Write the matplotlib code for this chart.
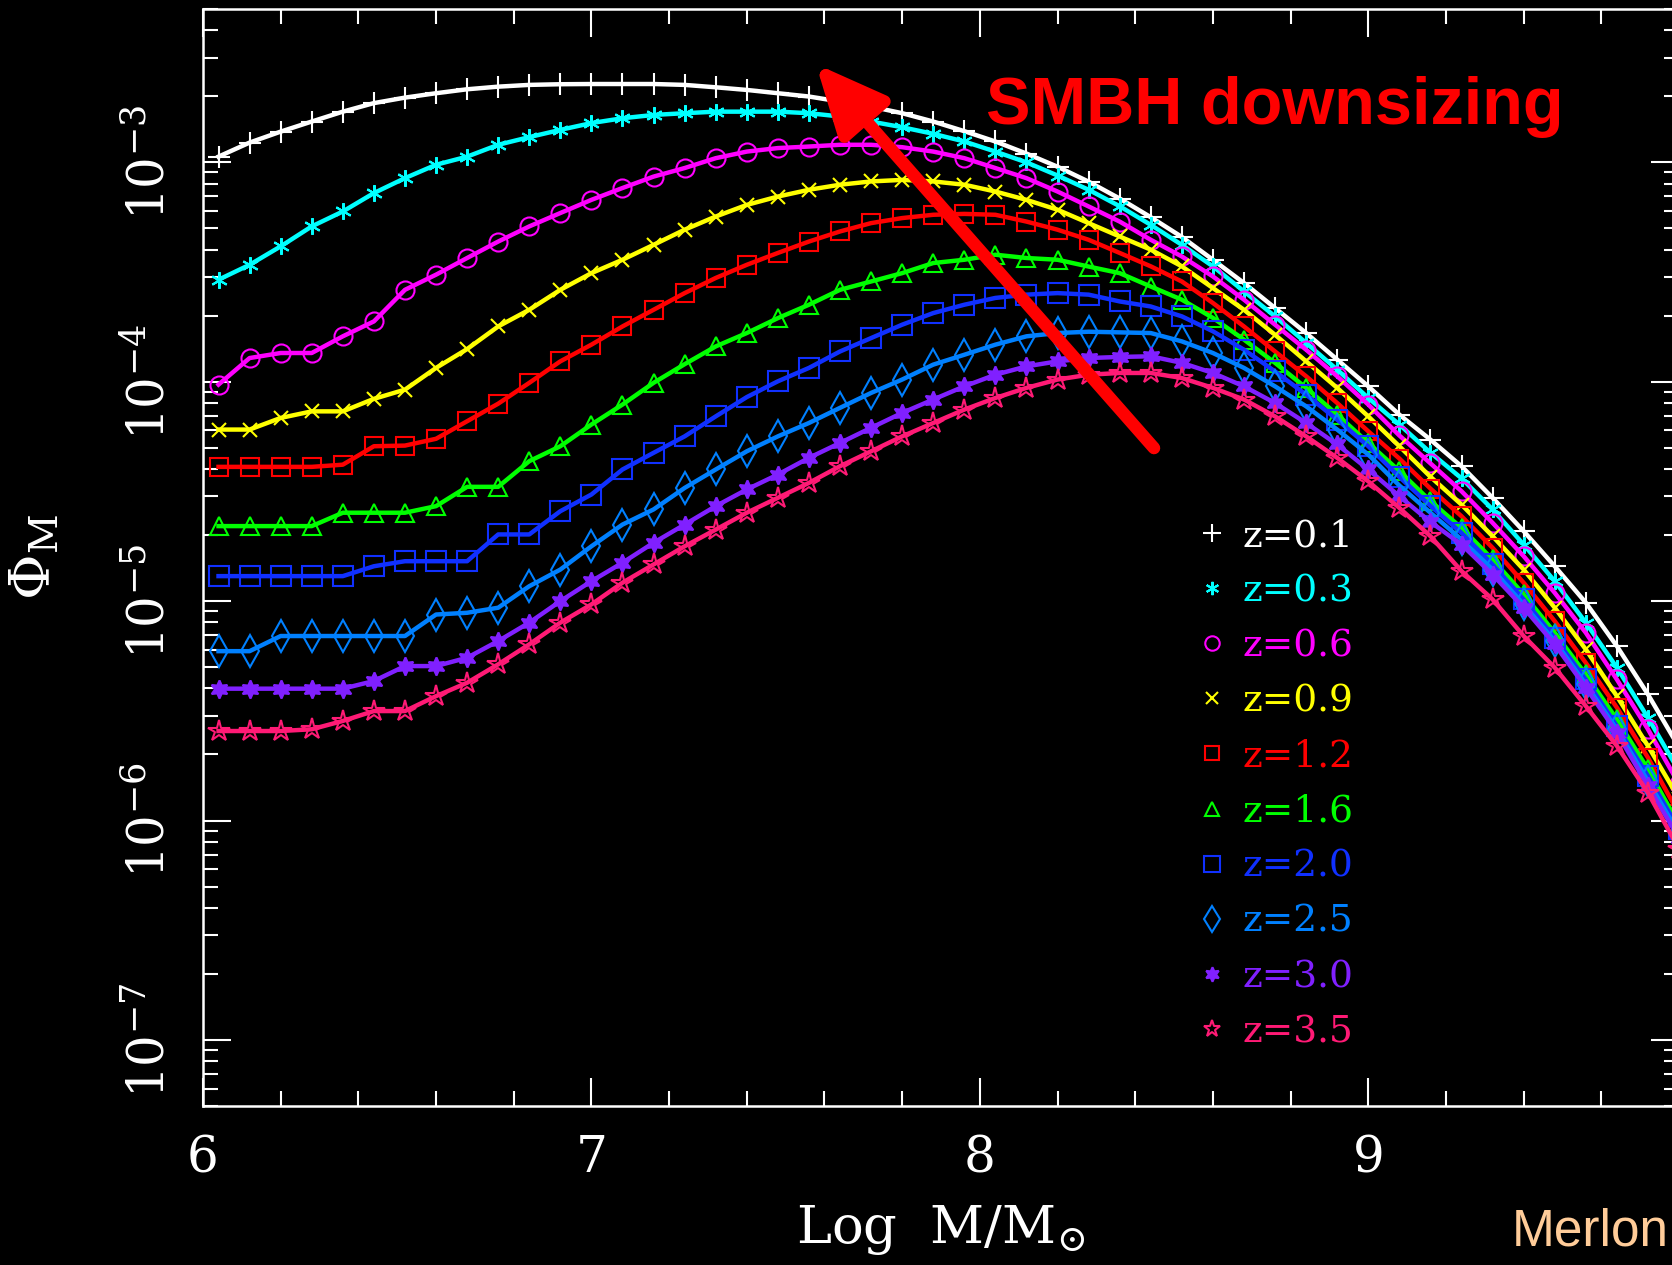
import numpy as np
import matplotlib
matplotlib.use("Agg")
import matplotlib.pyplot as plt
from matplotlib.ticker import MultipleLocator, LogLocator, NullFormatter

plt.rcParams["font.family"] = "DejaVu Serif"
plt.rcParams["mathtext.fontset"] = "dejavuserif"

# mass bins (log M/Msun), one marker every 0.08 dex
log_m = np.arange(6.04, 9.85, 0.08)

# log10 of the mass function, one list per redshift
phi_z01 = [-2.974, -2.910, -2.860, -2.814, -2.769, -2.730, -2.705, -2.685, -2.667, -2.655,
           -2.647, -2.644, -2.643, -2.643, -2.643, -2.647, -2.658, -2.670, -2.685, -2.700,
           -2.723, -2.746, -2.776, -2.814, -2.858, -2.905, -2.960, -3.020, -3.088, -3.165,
           -3.250, -3.340, -3.444, -3.550, -3.664, -3.778, -3.899, -4.021, -4.150, -4.264,
           -4.385, -4.529, -4.681, -4.841, -5.007, -5.205, -5.425, -5.666]
phi_z03 = [-3.535, -3.467, -3.383, -3.292, -3.224, -3.140, -3.072, -3.011, -2.974, -2.920,
           -2.885, -2.852, -2.821, -2.799, -2.784, -2.776, -2.769, -2.769, -2.769, -2.776,
           -2.791, -2.814, -2.840, -2.870, -2.905, -2.951, -3.000, -3.060, -3.125, -3.200,
           -3.285, -3.376, -3.474, -3.588, -3.702, -3.823, -3.945, -4.074, -4.195, -4.323,
           -4.440, -4.582, -4.742, -4.909, -5.098, -5.303, -5.531, -5.775]
phi_z06 = [-4.013, -3.892, -3.869, -3.869, -3.793, -3.725, -3.581, -3.512, -3.436, -3.361,
           -3.292, -3.231, -3.171, -3.117, -3.065, -3.026, -2.981, -2.951, -2.935, -2.928,
           -2.920, -2.920, -2.931, -2.951, -2.981, -3.026, -3.072, -3.133, -3.201, -3.270,
           -3.353, -3.429, -3.520, -3.626, -3.740, -3.854, -3.975, -4.104, -4.245, -4.372,
           -4.499, -4.643, -4.795, -4.962, -5.144, -5.357, -5.584, -5.834]
phi_z09 = [-4.218, -4.218, -4.165, -4.135, -4.135, -4.078, -4.036, -3.937, -3.851, -3.748,
           -3.672, -3.581, -3.505, -3.444, -3.376, -3.307, -3.247, -3.194, -3.156, -3.125,
           -3.102, -3.087, -3.080, -3.087, -3.102, -3.133, -3.171, -3.216, -3.277, -3.338,
           -3.398, -3.474, -3.573, -3.672, -3.786, -3.907, -4.028, -4.158, -4.294, -4.433,
           -4.560, -4.704, -4.856, -5.030, -5.220, -5.433, -5.660, -5.900]
phi_z12 = [-4.388, -4.388, -4.388, -4.388, -4.378, -4.294, -4.291, -4.260, -4.180, -4.100,
           -4.005, -3.907, -3.831, -3.748, -3.672, -3.596, -3.527, -3.467, -3.413, -3.361,
           -3.315, -3.277, -3.254, -3.239, -3.235, -3.239, -3.270, -3.307, -3.353, -3.413,
           -3.474, -3.543, -3.641, -3.748, -3.862, -3.975, -4.097, -4.226, -4.350, -4.487,
           -4.613, -4.757, -4.916, -5.091, -5.281, -5.485, -5.713, -5.970]
phi_z16 = [-4.658, -4.658, -4.658, -4.658, -4.597, -4.597, -4.597, -4.567, -4.479, -4.479,
           -4.362, -4.294, -4.195, -4.104, -4.005, -3.920, -3.839, -3.778, -3.710, -3.649,
           -3.581, -3.543, -3.505, -3.459, -3.444, -3.421, -3.436, -3.444, -3.475, -3.505,
           -3.566, -3.626, -3.709, -3.808, -3.914, -4.028, -4.150, -4.279, -4.407, -4.544,
           -4.666, -4.810, -4.969, -5.144, -5.334, -5.539, -5.766, -6.020]
phi_z20 = [-4.886, -4.886, -4.886, -4.886, -4.886, -4.841, -4.818, -4.818, -4.818, -4.696,
           -4.696, -4.590, -4.514, -4.400, -4.324, -4.249, -4.158, -4.070, -3.998, -3.937,
           -3.862, -3.801, -3.740, -3.687, -3.649, -3.618, -3.603, -3.596, -3.603, -3.634,
           -3.657, -3.702, -3.770, -3.854, -3.953, -4.059, -4.173, -4.294, -4.434, -4.566,
           -4.689, -4.833, -4.992, -5.167, -5.357, -5.569, -5.797, -6.040]
phi_z25 = [-5.228, -5.228, -5.159, -5.159, -5.159, -5.159, -5.159, -5.061, -5.053, -5.030,
           -4.932, -4.856, -4.750, -4.651, -4.582, -4.484, -4.400, -4.317, -4.249, -4.188,
           -4.119, -4.051, -3.990, -3.922, -3.877, -3.831, -3.793, -3.778, -3.772, -3.775,
           -3.778, -3.816, -3.869, -3.937, -4.021, -4.112, -4.218, -4.332, -4.473, -4.597,
           -4.719, -4.856, -5.015, -5.182, -5.379, -5.584, -5.820, -6.060]
phi_z30 = [-5.399, -5.399, -5.399, -5.399, -5.399, -5.364, -5.296, -5.296, -5.258, -5.182,
           -5.098, -5.000, -4.909, -4.825, -4.734, -4.651, -4.567, -4.491, -4.423, -4.347,
           -4.279, -4.210, -4.142, -4.081, -4.021, -3.968, -3.930, -3.907, -3.892, -3.887,
           -3.884, -3.914, -3.960, -4.021, -4.097, -4.188, -4.286, -4.400, -4.522, -4.639,
           -4.742, -4.879, -5.030, -5.197, -5.394, -5.599, -5.843, -6.080]
phi_z35 = [-5.592, -5.592, -5.592, -5.584, -5.546, -5.501, -5.501, -5.433, -5.372, -5.288,
           -5.197, -5.098, -5.015, -4.916, -4.833, -4.750, -4.674, -4.597, -4.529, -4.461,
           -4.385, -4.317, -4.249, -4.188, -4.127, -4.074, -4.028, -3.990, -3.968, -3.960,
           -3.960, -3.983, -4.028, -4.081, -4.158, -4.249, -4.347, -4.454, -4.575, -4.704,
           -4.863, -4.992, -5.159, -5.303, -5.478, -5.660, -5.873, -6.130]

series = [phi_z01, phi_z03, phi_z06, phi_z09, phi_z12,
          phi_z16, phi_z20, phi_z25, phi_z30, phi_z35]
labels = ["z=0.1", "z=0.3", "z=0.6", "z=0.9", "z=1.2",
          "z=1.6", "z=2.0", "z=2.5", "z=3.0", "z=3.5"]
colors = ["#ffffff", "#00ffff", "#ff00ff", "#ffff00", "#ff0000",
          "#00ff00", "#1030ff", "#0080ff", "#8020ff", "#ff1a75"]
markers = ["+", (6, 2, 0), "o", "x", "s", "^", "s", "d", (6, 1, 0), "*"]
msizes = [16, 12, 13, 10, 13, 13, 14, 16, 13, 16]
filled = [True, True, False, True, False, False, False, False, True, False]

ytick_vals = [1e-7, 1e-6, 1e-5, 1e-4, 1e-3]
ytick_labels = [r"$10^{-7}$", r"$10^{-6}$", r"$10^{-5}$", r"$10^{-4}$", r"$10^{-3}$"]

fig = plt.figure(figsize=(16.72, 12.65), dpi=100, facecolor="black")
ax = fig.add_axes([0.1214, 0.1257, 0.8828, 0.8672])
ax.set_facecolor("black")

for vals, lab, c, m, ms, f in zip(series, labels, colors, markers, msizes, filled):
    ax.plot(log_m, 10 ** np.array(vals), color=c, lw=3.2, marker=m, ms=ms,
            mec=c, mfc=c if f else "none", mew=1.5, label=lab)

ax.set_yscale("log")
ax.set_xlim(6, 9.8)
ax.set_ylim(5e-8, 5e-3)

ax.xaxis.set_major_locator(MultipleLocator(1))
ax.xaxis.set_minor_locator(MultipleLocator(0.2))
ax.set_yticks(ytick_vals, labels=ytick_labels)
ax.yaxis.set_minor_locator(LogLocator(base=10, subs=np.arange(2, 10)))
ax.yaxis.set_minor_formatter(NullFormatter())

ax.tick_params(which="both", direction="in", top=True, right=True,
               colors="white", width=1.5, labelsize=36, pad=20)
ax.tick_params(which="major", length=20)
ax.tick_params(which="minor", length=11)
plt.setp(ax.get_yticklabels(), rotation=90, va="center")
for sp in ax.spines.values():
    sp.set_color("white")
    sp.set_linewidth(1.8)

ax.set_xlabel(r"$\mathrm{Log\ \ M/M_{\odot}}$", fontsize=38, color="white", labelpad=14)
ax.set_ylabel(r"$\Phi_{\mathrm{M}}$", fontsize=40, color="white")
ax.yaxis.set_label_coords(-0.095, 0.5)

ax.legend(loc="upper left", bbox_to_anchor=(1212 / 1672, 0.5905),
          bbox_transform=fig.transFigure, frameon=False, handlelength=0,
          handletextpad=0.8, labelspacing=0.51, borderpad=0, borderaxespad=0,
          labelcolor="linecolor", numpoints=1, markerscale=0.8,
          prop={"family": "DejaVu Serif", "size": 27})

# annotation: arrow and caption
ax.annotate("", xy=(0.488, 0.9494), xytext=(0.6902, 0.6458),
            xycoords="figure fraction", textcoords="figure fraction",
            arrowprops=dict(arrowstyle="-|>,head_length=0.7,head_width=0.32",
                            mutation_scale=60, color="red", lw=9,
                            shrinkA=0, shrinkB=0), zorder=10)
fig.text(986 / 1672, 1 - 107 / 1265, "SMBH downsizing", color="red",
         fontsize=48, fontweight="bold", family="Liberation Sans",
         ha="left", va="center")
fig.text(1669 / 1672, 1 - 1232 / 1265, "Merlon", color="#ffcc99",
         fontsize=37, family="Liberation Sans", ha="right", va="center")

fig.savefig("out.png", dpi=100, facecolor="black")
